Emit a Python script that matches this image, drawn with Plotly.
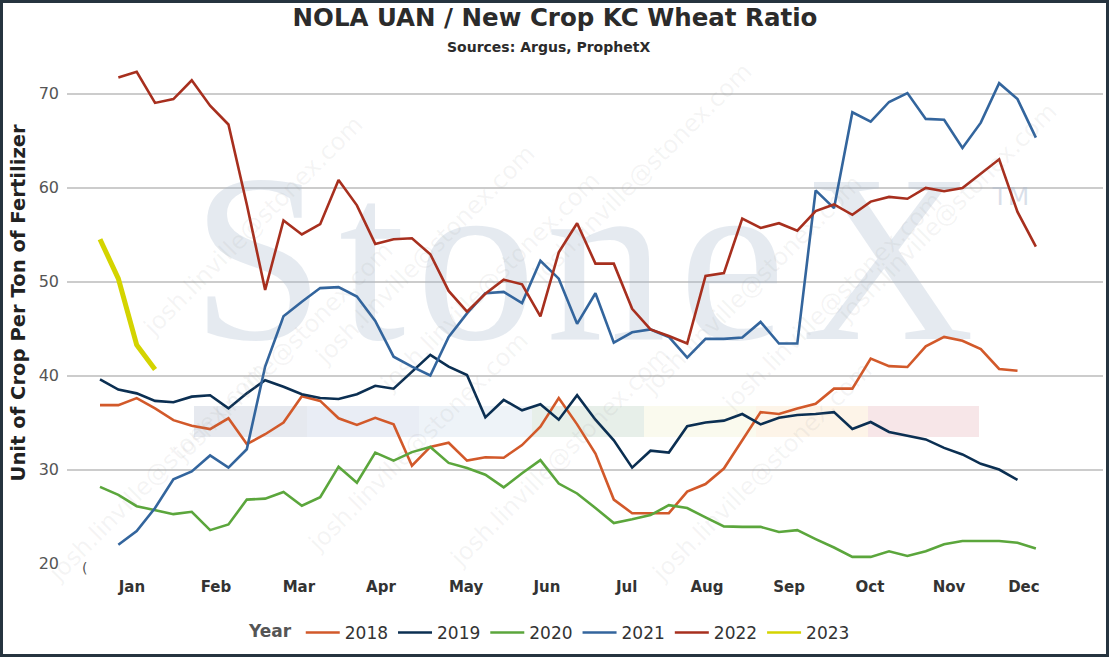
import plotly.graph_objects as go

# ---------------- data (weekly, week 1..52) ----------------
weeks = list(range(1, 53))
N = None

y2018 = [36.85, 36.85, 37.6, 36.5, 35.25, 34.65, 34.3, 35.45, 32.7, 33.75, 35.0, 37.8, 37.3,
         35.45, 34.75, 35.5, 34.8, 30.4, 32.4, 32.85, 30.95, 31.3, 31.25, 32.6, 34.55, 37.6,
         34.8, 31.7, 26.8, 25.35, 25.35, 25.35, 27.65, 28.45, 30.1, 33.15, 36.1, 35.9, 36.5,
         37.0, 38.6, 38.6, 41.8, 41.0, 40.9, 43.1, 44.1, 43.7, 42.8, 40.7, 40.5, N]
y2019 = [39.6, 38.5, 38.1, 37.3, 37.15, 37.75, 37.9, 36.5, 38.1, 39.5, 38.8, 38.0, 37.6,
         37.5, 38.0, 38.9, 38.6, 40.4, 42.2, 40.95, 40.05, 35.55, 37.4, 36.3, 36.95, 35.3,
         37.9, 35.3, 33.1, 30.2, 32.0, 31.8, 34.6, 35.0, 35.2, 35.9, 34.8, 35.5, 35.8,
         35.9, 36.1, 34.3, 35.05, 34.0, 33.6, 33.2, 32.3, 31.6, 30.6, 30.0, 28.9, N]
y2020 = [28.15, 27.3, 26.1, 25.7, 25.25, 25.5, 23.55, 24.15, 26.8, 26.9, 27.6, 26.15, 27.05,
         30.3, 28.6, 31.8, 30.95, 31.85, 32.4, 30.7, 30.15, 29.45, 28.1, 29.6, 31.0, 28.5,
         27.45, 25.9, 24.3, 24.7, 25.15, 26.2, 25.9, 24.9, 23.95, 23.9, 23.9, 23.35, 23.55,
         22.6, 21.7, 20.7, 20.7, 21.3, 20.8, 21.3, 22.05, 22.4, 22.4, 22.4, 22.2, 21.6]
y2021 = [N, 22.0, 23.45, 25.9, 28.95, 29.8, 31.5, 30.2, 32.15, 40.95, 46.3, 47.85, 49.3,
         49.4, 48.4, 45.8, 42.0, 40.95, 40.0, 44.1, 46.6, 48.75, 48.9, 47.7, 52.2, 50.3,
         45.5, 48.75, 43.5, 44.6, 44.9, 44.1, 41.9, 43.9, 43.9, 44.05, 45.7, 43.4, 43.4,
         59.7, 57.8, 68.0, 67.0, 69.1, 70.05, 67.3, 67.2, 64.2, 66.9, 71.1, 69.4, 65.3]
y2022 = [N, 71.7, 72.3, 69.0, 69.4, 71.4, 68.7, 66.7, 58.2, 49.1, 56.5, 55.0, 56.1,
         60.8, 58.1, 54.0, 54.5, 54.6, 52.9, 49.0, 46.8, 48.7, 50.2, 49.7, 46.3, 53.1,
         56.2, 51.9, 51.9, 47.1, 44.9, 44.2, 43.4, 50.6, 50.9, 56.7, 55.7, 56.2, 55.4,
         57.5, 58.2, 57.1, 58.5, 59.0, 58.8, 59.95, 59.6, 59.95, 61.5, 63.0, 57.4, 53.7]
y2023 = [54.5, 50.3, 43.25, 40.65] + [N] * 48

years = ["2018", "2019", "2020", "2021", "2022", "2023"]
series = [y2018, y2019, y2020, y2021, y2022, y2023]
colors = ["#d2592a", "#0b2f52", "#5ba63c", "#33659d", "#a72f1e", "#d4d400"]
widths = [2.6, 2.6, 2.6, 2.6, 2.6, 5]

month_labels = ["Jan", "Feb", "Mar", "Apr", "May", "Jun",
                "Jul", "Aug", "Sep", "Oct", "Nov", "Dec"]
month_pos = [2.74, 7.32, 11.84, 16.31, 20.95, 25.36,
             29.7, 34.08, 38.55, 42.96, 47.27, 51.35]
y_ticks = [20, 30, 40, 50, 60, 70]

# ---------------- geometry helpers ----------------
W, H = 1110, 658
ML, MR, MT, MB = 67, 7, 61, 94
PW, PH = W - ML - MR, H - MT - MB
PX_PER_UNIT = 9.4
PX_PER_WEEK = 18.35


def px2paper_x(px):
    return (px - ML) / PW


def px2paper_y(py):
    return (H - MB - py) / PH


def px2week(px):
    return (px - 100) / PX_PER_WEEK + 1


def py2val(py):
    return 70 - (py - 93.5) / PX_PER_UNIT


fig = go.Figure()

# watermark logo letters (drawn first, beneath the lines)
logo_letters = ["S", "t", "o", "n", "e", "X"]
logo_px = [258, 372, 476, 606, 732, 888]
fig.add_trace(go.Scatter(
    x=[px2week(p) for p in logo_px], y=[py2val(279)] * len(logo_px), mode="text",
    text=logo_letters,
    textfont=dict(family="Liberation Serif", size=240, color="rgba(170,184,206,0.30)"),
    textposition="middle center", showlegend=False, hoverinfo="skip", cliponaxis=False))
fig.add_trace(go.Scatter(
    x=[px2week(1011)], y=[py2val(199)], mode="text", text=["TM"],
    textfont=dict(family="DejaVu Sans", size=25, color="rgba(170,184,206,0.45)"),
    textposition="middle center", showlegend=False, hoverinfo="skip", cliponaxis=False))

for name, ys, c, w in zip(years, series, colors, widths):
    fig.add_trace(go.Scatter(
        x=weeks, y=ys, name=name, mode="lines", showlegend=False,
        line=dict(color=c, width=w), connectgaps=False))
# legend entries (uniform line width as in the reference legend)
for name, c in zip(years, colors):
    fig.add_trace(go.Scatter(x=[None], y=[None], name=name, mode="lines",
                             line=dict(color=c, width=2.6), showlegend=True))

# coloured watermark band
band_edges = [194, 307, 419, 532, 644, 756, 868, 979]
band_cols = ["#e6e9ef", "#e9edf5", "#eef3f8", "#e7efe9", "#fafaee", "#fdf4e8", "#f7e6e8"]
shapes = []
for i, bc in enumerate(band_cols):
    shapes.append(dict(type="rect", xref="paper", yref="paper",
                       x0=px2paper_x(band_edges[i]), x1=px2paper_x(band_edges[i + 1]),
                       y0=px2paper_y(437), y1=px2paper_y(406),
                       fillcolor=bc, line=dict(width=0), layer="below"))
# outer frame
shapes.append(dict(type="rect", xref="paper", yref="paper",
                   x0=px2paper_x(1.5), x1=px2paper_x(1107.5),
                   y0=px2paper_y(655.5), y1=px2paper_y(1.5),
                   line=dict(color="#26343f", width=3), fillcolor="rgba(0,0,0,0)"))

annotations = []
# email watermarks
email = "josh.linville@stonex.com"
for (ex, ey) in [(135, 108), (165, 352), (40, 590), (425, 255), (490, 400), (560, 575),
                 (760, 55), (870, 285), (950, 420), (1065, 95), (880, 590), (300, 560)]:
    annotations.append(dict(xref="paper", yref="paper", x=px2paper_x(ex), y=px2paper_y(ey),
                            text=email, showarrow=False, textangle=-45,
                            font=dict(family="DejaVu Sans", size=24,
                                      color="rgba(140,140,140,0.09)")))
# subtitle
annotations.append(dict(xref="paper", yref="paper", x=px2paper_x(548), y=px2paper_y(47),
                        xanchor="center", yanchor="middle",
                        text="<b>Sources: Argus, ProphetX</b>", showarrow=False,
                        font=dict(family="DejaVu Sans", size=14, color="#2b2b2b")))
# y-axis title
annotations.append(dict(xref="paper", yref="paper", x=px2paper_x(17.5), y=px2paper_y(303),
                        xanchor="center", yanchor="middle", textangle=-90,
                        text="<b>Unit of Crop Per Ton of Fertilizer</b>", showarrow=False,
                        font=dict(family="DejaVu Sans", size=19.6, color="#222222")))
# clipped axis label at the left
annotations.append(dict(xref="paper", yref="paper", x=px2paper_x(80), y=px2paper_y(578),
                        text="(", showarrow=False,
                        font=dict(family="DejaVu Sans", size=14, color="#555555")))

fig.update_layout(
    width=W, height=H,
    margin=dict(l=ML, r=MR, t=MT, b=MB),
    paper_bgcolor="white", plot_bgcolor="white",
    title=dict(text="<b>NOLA UAN / New Crop KC Wheat Ratio</b>",
               x=0.5, xanchor="center", xref="container", y=1 - 17 / H, yanchor="middle",
               font=dict(family="DejaVu Sans", size=24.5, color="#2b2b2b")),
    font=dict(family="DejaVu Sans"),
    showlegend=True,
    legend=dict(orientation="h", x=px2paper_x(551), xanchor="center",
                y=px2paper_y(633), yanchor="middle",
                title=dict(text="<b>Year</b>", font=dict(size=17, color="#555555")),
                font=dict(size=17, color="#333333"), bgcolor="rgba(0,0,0,0)",
                itemwidth=34, tracegroupgap=0),
    shapes=shapes,
    annotations=annotations,
    hovermode=False,
)

fig.update_xaxes(range=[px2week(ML), px2week(W - MR)], tickmode="array", tickvals=month_pos,
                 ticktext=month_labels, showgrid=False, zeroline=False, showline=False,
                 ticks="", ticklabelstandoff=12,
                 tickfont=dict(family="DejaVu Sans", size=15, color="#333333", weight="bold"))
fig.update_yaxes(range=[py2val(H - MB), py2val(MT)], tickmode="array", tickvals=y_ticks,
                 showgrid=True, gridcolor="#cccccc", gridwidth=1.5, zeroline=False,
                 showline=False, ticks="", ticklabelstandoff=7,
                 tickfont=dict(family="DejaVu Sans", size=16, color="#555555"))

fig.write_html("out.html", config={"displayModeBar": False},
               post_script="document.body.style.margin='0';")
